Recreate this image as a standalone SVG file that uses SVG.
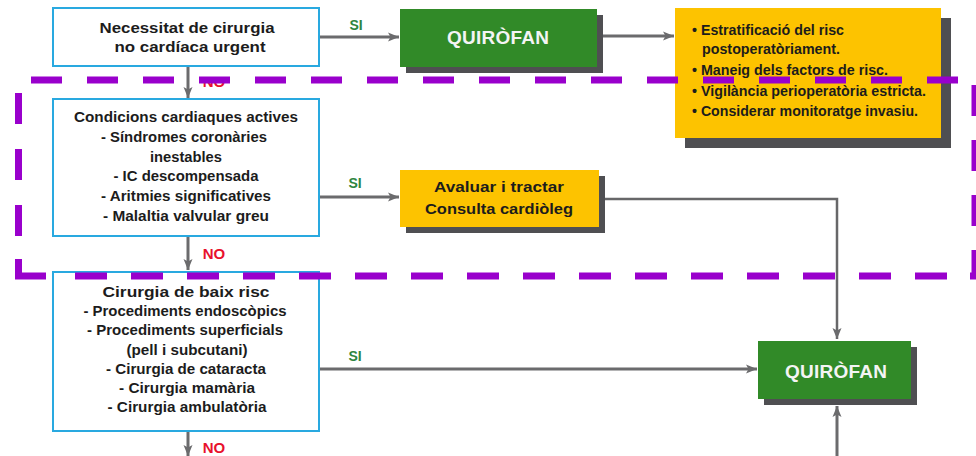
<svg xmlns="http://www.w3.org/2000/svg" width="976" height="456" viewBox="0 0 976 456">
  <style>
    .box { fill: #ffffff; stroke: #29a9e0; stroke-width: 2; }
    .green { fill: #318a28; }
    .yellow { fill: #fdc300; }
    .shadow { fill: #4f4f52; }
    .txt { font-family: "Liberation Sans", Arial, sans-serif; font-weight: bold; font-size: 15px; fill: #1c1c1c; text-anchor: middle; }
    .note { font-family: "Liberation Sans", Arial, sans-serif; font-weight: bold; font-size: 15px; fill: #1c1c1c; }
    .q { font-family: "Liberation Sans", Arial, sans-serif; font-weight: bold; font-size: 19px; fill: #f4f4f4; text-anchor: middle; }
    .si { font-family: "Liberation Sans", Arial, sans-serif; font-weight: bold; font-size: 14px; fill: #2e8540; text-anchor: middle; }
    .no { font-family: "Liberation Sans", Arial, sans-serif; font-weight: bold; font-size: 15px; fill: #e8112d; text-anchor: middle; }
    .line { fill: none; stroke: #6b6b6d; stroke-width: 3; }
    .thin { fill: none; stroke: #676769; stroke-width: 2.5; }
    .dash { fill: none; stroke: #9900cc; stroke-width: 7; }
  </style>
  <defs>
    <marker id="arrow" markerUnits="userSpaceOnUse" markerWidth="12" markerHeight="10" refX="11" refY="5" orient="auto">
      <path d="M0,0.5 L11,5 L0,9.5 L2.5,5 z" fill="#6b6b6d"/>
    </marker>
  </defs>

  <rect width="976" height="456" fill="#ffffff"/>

  <!-- connectors -->
  <g id="connectors">
    <path class="line" d="M319 37 H399" marker-end="url(#arrow)"/>
    <path class="line" d="M597 36 H674" marker-end="url(#arrow)"/>
    <path class="line" d="M188 66 V98" marker-end="url(#arrow)"/>
    <path class="line" d="M319 197 H399" marker-end="url(#arrow)"/>
    <path class="line" d="M188 236 V270" marker-end="url(#arrow)"/>
    <path class="thin" d="M599 199 H837 V339" marker-end="url(#arrow)"/>
    <path class="line" d="M319 369 H757" marker-end="url(#arrow)"/>
    <path class="line" d="M188 431 V456" marker-end="url(#arrow)"/>
    <path class="line" d="M837 456 V406" marker-end="url(#arrow)"/>
    <text class="si" x="356" y="30">SI</text>
    <text class="no" x="214" y="87">NO</text>
    <text class="si" x="355" y="188">SI</text>
    <text class="no" x="214" y="259">NO</text>
    <text class="si" x="355" y="361">SI</text>
    <text class="no" x="214" y="453">NO</text>
  </g>

  <!-- decision: urgent surgery -->
  <g id="urgent">
    <rect class="box" x="53" y="8" width="266" height="58"/>
    <text class="txt" x="187" y="33" textLength="175" lengthAdjust="spacingAndGlyphs">Necessitat de cirurgia</text>
    <text class="txt" x="190" y="52" textLength="151" lengthAdjust="spacingAndGlyphs">no cardíaca urgent</text>
  </g>

  <!-- operating room (top) -->
  <g id="quirofan1">
    <rect class="shadow" x="406" y="15" width="197" height="58"/>
    <rect class="green" x="400" y="9" width="197" height="58"/>
    <text class="q" x="498" y="44" textLength="102">QUIRÒFAN</text>
  </g>

  <!-- recommendations -->
  <g id="recomanacions">
    <rect class="shadow" x="685" y="18" width="266" height="130"/>
    <rect class="yellow" x="675" y="8" width="266" height="130"/>
    <text class="note" x="692" y="35" textLength="152" lengthAdjust="spacingAndGlyphs">• Estratificació del risc</text>
    <text class="note" x="702" y="54" textLength="138" lengthAdjust="spacingAndGlyphs">postoperatòriament.</text>
    <text class="note" x="692" y="75" textLength="196" lengthAdjust="spacingAndGlyphs">• Maneig dels factors de risc.</text>
    <text class="note" x="692" y="96" textLength="234" lengthAdjust="spacingAndGlyphs">• Vigilància perioperatòria estricta.</text>
    <text class="note" x="692" y="116" textLength="226" lengthAdjust="spacingAndGlyphs">• Considerar monitoratge invasiu.</text>
  </g>

  <!-- decision: active cardiac conditions -->
  <g id="condicions">
    <rect class="box" x="53" y="99" width="266" height="137"/>
    <text class="txt" x="186" y="122" textLength="224" lengthAdjust="spacingAndGlyphs">Condicions cardiaques actives</text>
    <text class="txt" x="184" y="141.8" textLength="166" lengthAdjust="spacingAndGlyphs">- Síndromes coronàries</text>
    <text class="txt" x="186" y="161.6" textLength="72" lengthAdjust="spacingAndGlyphs">inestables</text>
    <text class="txt" x="186" y="181.4" textLength="145" lengthAdjust="spacingAndGlyphs">- IC descompensada</text>
    <text class="txt" x="186" y="201.2" textLength="170" lengthAdjust="spacingAndGlyphs">- Aritmies significatives</text>
    <text class="txt" x="186" y="221" textLength="166" lengthAdjust="spacingAndGlyphs">- Malaltia valvular greu</text>
  </g>

  <!-- evaluate and treat -->
  <g id="avaluar">
    <rect class="shadow" x="406" y="176" width="199" height="57"/>
    <rect class="yellow" x="400" y="170" width="199" height="57"/>
    <text class="txt" x="499" y="192" textLength="130" lengthAdjust="spacingAndGlyphs">Avaluar i tractar</text>
    <text class="txt" x="499" y="214" textLength="148" lengthAdjust="spacingAndGlyphs">Consulta cardiòleg</text>
  </g>

  <!-- decision: low-risk surgery -->
  <g id="baixrisc">
    <rect class="box" x="53" y="272" width="266" height="159"/>
    <text class="txt" x="186" y="297" textLength="167" lengthAdjust="spacingAndGlyphs">Cirurgia de baix risc</text>
    <text class="txt" x="185" y="316.2" textLength="203" lengthAdjust="spacingAndGlyphs">- Procediments endoscòpics</text>
    <text class="txt" x="185" y="335.4" textLength="196" lengthAdjust="spacingAndGlyphs">- Procediments superficials</text>
    <text class="txt" x="187" y="354.6" textLength="121" lengthAdjust="spacingAndGlyphs">(pell i subcutani)</text>
    <text class="txt" x="186" y="373.8" textLength="160" lengthAdjust="spacingAndGlyphs">- Cirurgia de cataracta</text>
    <text class="txt" x="187" y="393" textLength="136" lengthAdjust="spacingAndGlyphs">- Cirurgia mamària</text>
    <text class="txt" x="187" y="412.2" textLength="159" lengthAdjust="spacingAndGlyphs">- Cirurgia ambulatòria</text>
  </g>

  <!-- operating room (bottom) -->
  <g id="quirofan2">
    <rect class="shadow" x="764" y="347" width="153" height="58"/>
    <rect class="green" x="758" y="341" width="153" height="58"/>
    <text class="q" x="836" y="378" textLength="102">QUIRÒFAN</text>
  </g>

  <!-- dashed frame around the active-conditions step -->
  <g id="frame">
    <path class="dash" d="M31 80 H958" stroke-dasharray="31 25"/>
    <path class="dash" d="M18.5 93 V240" stroke-dasharray="31 25"/>
    <path class="dash" d="M18.5 259 V276 H46"/>
    <path class="dash" d="M75 276 H970" stroke-dasharray="32 24"/>
    <path class="dash" d="M975 85 V276 H969" stroke-dasharray="31 24"/>
  </g>
</svg>
